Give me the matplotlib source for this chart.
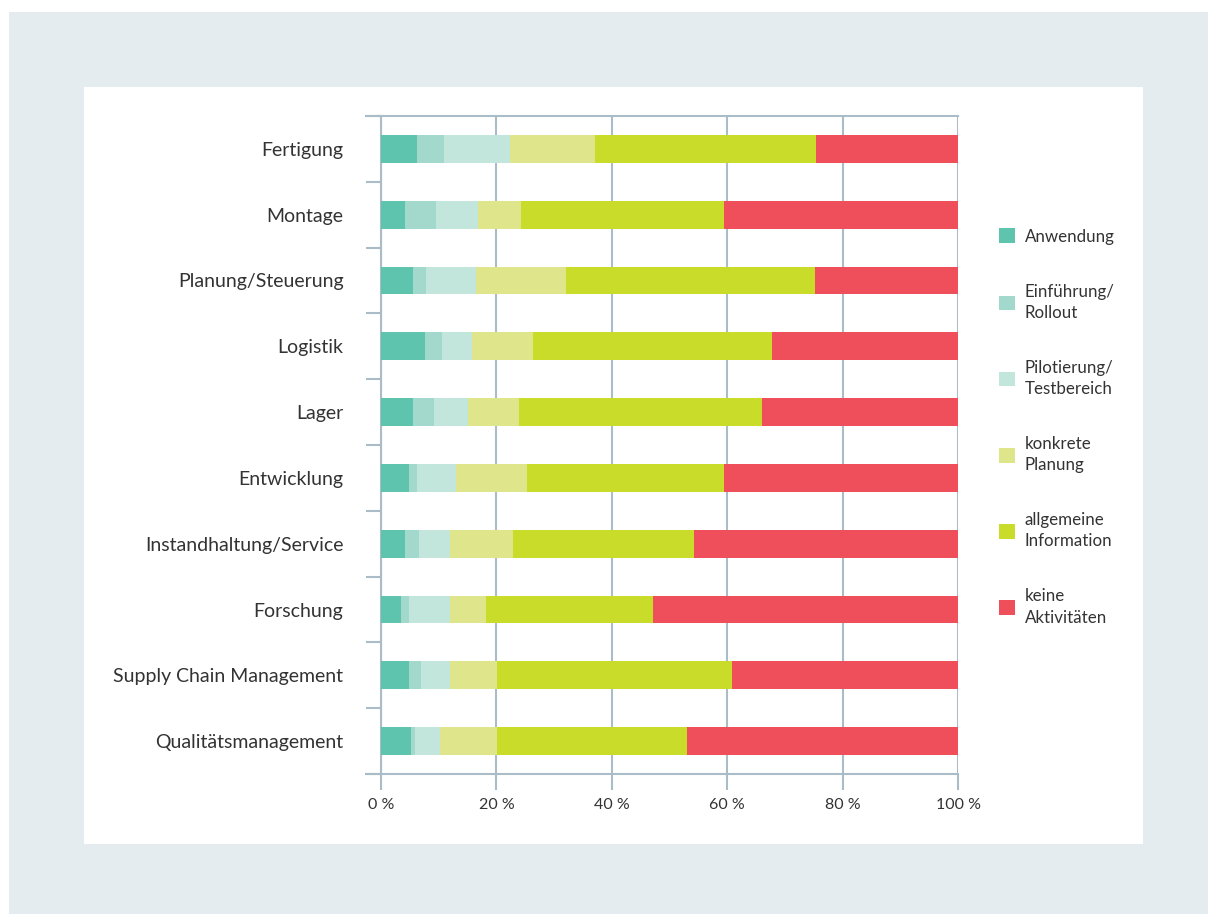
import matplotlib.pyplot as plt
import numpy as np
from matplotlib.patches import Rectangle

plt.rcParams['font.family'] = ['Lato', 'DejaVu Sans']

bereiche = ['Fertigung', 'Montage', 'Planung/Steuerung', 'Logistik', 'Lager',
            'Entwicklung', 'Instandhaltung/Service', 'Forschung',
            'Supply Chain Management', 'Qualitätsmanagement']

stufen = ['Anwendung', 'Einführung/\nRollout', 'Pilotierung/\nTestbereich',
          'konkrete\nPlanung', 'allgemeine\nInformation', 'keine\nAktivitäten']

anwendung   = [6.3, 4.2, 5.6, 7.6, 5.6, 4.9, 4.2, 3.5, 4.9, 5.2]
einfuehrung = [4.7, 5.3, 2.2, 3.0, 3.6, 1.4, 2.4, 1.4, 2.0, 0.7]
pilotierung = [11.4, 7.3, 8.7, 5.2, 5.9, 6.7, 5.4, 7.1, 5.1, 4.3]
planung     = [14.7, 7.5, 15.6, 10.6, 8.9, 12.3, 10.9, 6.2, 8.1, 9.9]
information = [38.3, 35.2, 43.2, 41.3, 42.0, 34.2, 31.4, 29.0, 40.8, 32.9]
keine       = [24.6, 40.5, 24.7, 32.3, 34.0, 40.5, 45.7, 52.8, 39.1, 47.0]

farben = ['#5ec4ae', '#a2d9cc', '#c2e5dc', '#dfe58a', '#cadc2a', '#ef4f5a']

achse = '#a9bcc7'
text = '#333333'

fig = plt.figure(figsize=(12.08, 9.14), dpi=100)
fig.patch.set_facecolor('white')

# grey frame with the white panel on top
fig.patches.append(Rectangle((9 / 1208, 0), 1 - 9 / 1208, 1 - 12 / 914,
                             transform=fig.transFigure, facecolor='#e4ecef',
                             edgecolor='none', zorder=-3))
fig.patches.append(Rectangle((84 / 1208, 1 - 844 / 914), (1143 - 84) / 1208,
                             (844 - 87) / 914, transform=fig.transFigure,
                             facecolor='white', edgecolor='none', zorder=-2))

ax = fig.add_axes([381 / 1208, 1 - 774 / 914, 577 / 1208, 658 / 914])
ax.patch.set_alpha(0)

y = np.arange(len(bereiche))
werte = [anwendung, einfuehrung, pilotierung, planung, information, keine]
links = np.zeros(len(bereiche))
balken = []
for name, w, f in zip(stufen, werte, farben):
    b = ax.barh(y, w, left=links, height=0.42, color=f, label=name, zorder=3)
    balken.append(b)
    links += np.array(w)

ax.set_xlim(0, 100)
ax.set_ylim(len(bereiche) - 0.5, -0.5)

ax.set_xticks(np.arange(0, 101, 20))
ax.set_xticklabels([f'{v} %' for v in range(0, 101, 20)])
ax.set_yticks(y)
ax.set_yticklabels(bereiche)
ax.set_yticks(np.arange(-0.5, len(bereiche)), minor=True)

ax.tick_params(axis='y', which='major', length=0, pad=27, labelsize=14,
               labelcolor=text)
ax.tick_params(axis='y', which='minor', length=11, width=1.5, color=achse)
ax.tick_params(axis='x', length=11.5, width=1.5, color=achse, pad=6,
               labelsize=11.5, labelcolor=text)
for lab in ax.get_yticklabels():
    lab.set_y(lab.get_position()[1])

ax.grid(axis='x', color=achse, linewidth=1.5, zorder=0)
for s in ['top', 'bottom', 'left']:
    ax.spines[s].set_color(achse)
    ax.spines[s].set_linewidth(1.5)
ax.spines['right'].set_visible(False)

# top and bottom lines run out to the left tick marks
for yy in (-0.5, len(bereiche) - 0.5):
    ax.plot([-2.7, 0], [yy, yy], color=achse, linewidth=1.5, clip_on=False,
            solid_capstyle='butt')

leg = fig.legend(handles=balken, loc='center left',
                 bbox_to_anchor=(999 / 1208, 1 - 427 / 914), frameon=False,
                 fontsize=12.2, labelcolor=text, handlelength=0.96,
                 handleheight=0.96, handletextpad=0.55, labelspacing=2.3,
                 borderpad=0, borderaxespad=0)
for t in leg.get_texts():
    t.set_linespacing(1.4)

fig.savefig('out.png', dpi=100)
